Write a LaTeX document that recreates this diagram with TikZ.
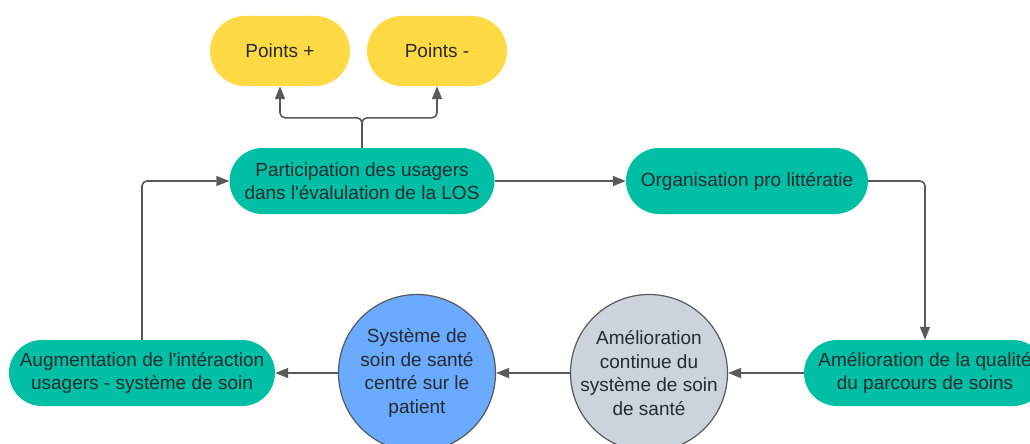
\documentclass[tikz,border=0pt]{standalone}
\usepackage{fontspec}
\setmainfont{Liberation Sans}
\usetikzlibrary{arrows.meta}
\definecolor{tealbox}{HTML}{00BFA5}
\definecolor{yellowbox}{HTML}{FFDA44}
\definecolor{bluecirc}{HTML}{6AAAFF}
\definecolor{greycirc}{HTML}{CDD3DC}
\definecolor{linegrey}{HTML}{5A5A5A}
\definecolor{textgrey}{HTML}{262B30}
\begin{document}
\begin{tikzpicture}[x=1pt,y=-1pt,
  pill/.style={fill=tealbox, rounded corners=33pt, minimum height=66pt,
    inner xsep=3pt, align=center, text=textgrey,
    font=\fontsize{19}{23.5}\selectfont},
  yellowpill/.style={pill, fill=yellowbox, rounded corners=35pt,
    minimum height=70pt, minimum width=140pt},
  bubble/.style={circle, draw=linegrey, line width=1.2pt, minimum size=157pt,
    inner sep=-3pt, align=center, text=textgrey,
    font=\fontsize{19}{23.5}\selectfont},
  flow/.style={draw=linegrey, line width=1.6pt, rounded corners=5pt,
    -{Triangle[length=13pt,width=10pt]}}]
  \useasboundingbox (0,0) rectangle (1030,444);
  \clip (0,0) rectangle (1030,444);
  % top row
  \node[yellowpill] (plus) at (280,51) {Points +};
  \node[yellowpill] (minus) at (437,51) {Points -};
  \node[pill, minimum width=265pt] (part) at (362,181)
    {Participation des usagers\\dans l\textquotesingle évalulation de la LOS};
  \node[pill, minimum width=242pt] (org) at (747,181) {Organisation pro littératie};
  % bottom row
  \node[pill, minimum width=242pt] (amq) at (925,373)
    {Amélioration de la qualité\\du parcours de soins};
  \node[bubble, fill=greycirc] (amc) at (649,373)
    {Amélioration\\continue du\\système de soin\\de santé};
  \node[bubble, fill=bluecirc] (sys) at (417,373)
    {Système de\\soin de santé\\centré sur le\\patient};
  \node[pill, minimum width=266pt] (aug) at (142,373)
    {Augmentation de l\textquotesingle intéraction\\usagers - système de soin};
  % connectors
  \draw[flow] (part.north) -- ++(0,-30) -| (plus.south);
  \draw[flow] (part.north) -- ++(0,-30) -| (minus.south);
  \draw[flow] (part.east) -- (org.west);
  \draw[flow] (org.east) -| (amq.north);
  \draw[flow] (amq.west) -- (amc.east);
  \draw[flow] (amc.west) -- (sys.east);
  \draw[flow] (sys.west) -- (aug.east);
  \draw[flow] (aug.north) |- (part.west);
\end{tikzpicture}
\end{document}
